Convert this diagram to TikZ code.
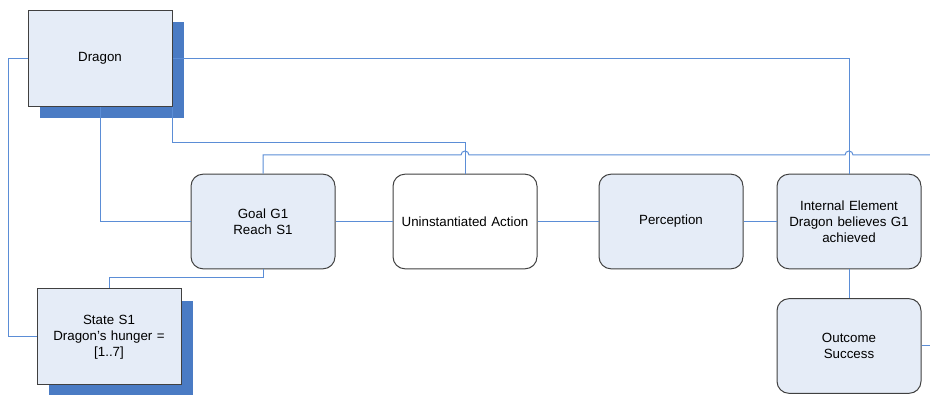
\documentclass[tikz,border=0pt]{standalone}
\usepackage{fontspec}
\setmainfont{Liberation Sans}
\usepackage{tikz}
\usetikzlibrary{calc}
\usetikzlibrary{shadows}
\definecolor{boxfill}{HTML}{E5ECF7}
\definecolor{shadowblue}{HTML}{4A7BC4}
\definecolor{linkblue}{HTML}{5B8DD6}
\definecolor{edgegray}{HTML}{404040}
\tikzset{
  base/.style={draw=edgegray, line width=0.75pt, inner sep=2pt, align=center,
    text width=104pt, minimum width=108pt, font=\fontsize{10}{12}\selectfont},
  actor/.style={base, fill=boxfill, minimum height=72pt,
    drop shadow={shadow xshift=9pt, shadow yshift=-9pt, fill=shadowblue, opacity=1}},
  event/.style={base, fill=boxfill, rounded corners=9pt, minimum height=71pt},
  plain/.style={base, fill=white, rounded corners=9pt, minimum height=71pt},
  link/.style={draw=linkblue, line width=0.75pt}
}
\begin{document}
\begin{tikzpicture}[x=0.75pt, y=0.75pt]
            \useasboundingbox (0,0) rectangle (930,395);
            % boxes
            \node[actor] (dragon) at (100,336.5) {Dragon};
            \node[actor] (state) at (109,58) {State S1\\Dragon’s hunger =\\{[}1..7{]}};
            \node[event] (goal) at (263,173.5) {Goal G1\\Reach S1};
            \node[plain] (uninst) at (465,173.5) {Uninstantiated Action};
            \node[event] (percep) at (671,173.5) {Perception};
            \node[event] (internal) at (849,173.5) {Internal Element\\Dragon believes G1\\achieved};
            \node[event] (outcome) at (849,49) {Outcome\\Success};
            % free ends and line hops
            \coordinate (hopR) at (930,240);
            \coordinate (outR) at (930,49);
            \coordinate (hopA) at ($(uninst.north |- hopR)+(-4,0)$);
            \coordinate (hopB) at ($(internal.north |- hopR)+(-4,0)$);
            % links
            \draw[link] (dragon.east) -| (internal.north);
            \draw[link] (dragon.south) |- (goal.west);
            \draw[link] (dragon.south east) -- ++(0,-36) -| (uninst.north);
            \draw[link] (dragon.west) -- ++(-19,0) |- (state.west);
            \draw[link] (goal.south) -- ++(0,-8) -| (state.north);
            \draw[link] (goal.north) |- (hopA) arc (180:0:4) -- (hopB)
                arc (180:0:4) -- (hopR);
            \draw[link] (goal.east) -- (uninst.west);
            \draw[link] (uninst.east) -- (percep.west);
            \draw[link] (percep.east) -- (internal.west);
            \draw[link] (internal.south) -- (outcome.north);
            \draw[link] (outcome.east) -- (outR);
        \end{tikzpicture}
\end{document}
